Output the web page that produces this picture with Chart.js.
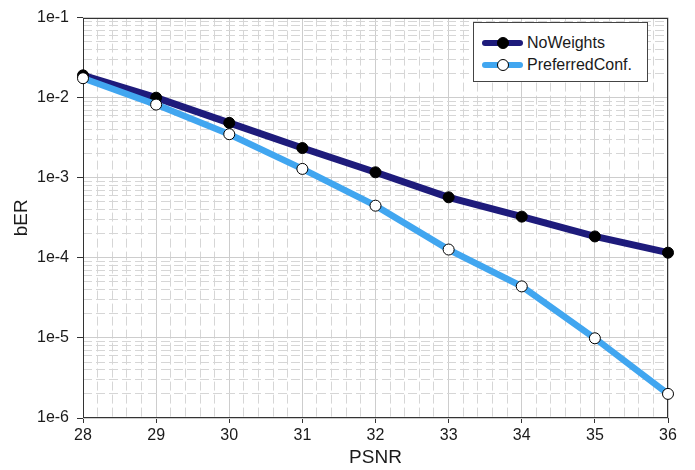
<!DOCTYPE html>
<html>
<head>
<meta charset="utf-8">
<script src="https://cdn.jsdelivr.net/npm/chart.js@4/dist/chart.umd.min.js"></script>
<style>
  html, body { margin: 0; padding: 0; background: #fff; }
  #wrap { position: relative; width: 695px; height: 470px; }
  #legend {
    position: absolute; left: 473px; top: 22px; width: 175px; height: 60px;
    border: 1px solid #444; background: #fff; box-sizing: border-box;
    font-family: "Liberation Sans", Arial, sans-serif; font-size: 16px; color: #1a1a1a;
  }
  .row { position: absolute; left: 8px; height: 20px; display: flex; align-items: center; }
  .icon { position: relative; width: 41px; height: 20px; margin-right: 4px; }
  .icon .ln { position: absolute; left: 0; right: 0; top: 7px; height: 6px; border-radius: 3px; }
  .icon .mk { position: absolute; left: 15px; top: 4px; width: 10px; height: 10px; border-radius: 50%; border: 1px solid #000; }
</style>
</head>
<body>
<div id="wrap">
  <canvas id="c" width="695" height="470"></canvas>
  <div id="legend">
    <div class="row" style="top:10px"><div class="icon"><div class="ln" style="background:#1e1b7b"></div><div class="mk" style="background:#000"></div></div><span id="l0"></span></div>
    <div class="row" style="top:32px"><div class="icon"><div class="ln" style="background:#41a6f0"></div><div class="mk" style="background:#fff"></div></div><span id="l1"></span></div>
  </div>
</div>
<script>
const seriesNames = ['NoWeights', 'PreferredConf.'];
const psnr = [28, 29, 30, 31, 32, 33, 34, 35, 36];
const noWeights = [1.9e-2, 1.0e-2, 4.85e-3, 2.35e-3, 1.17e-3, 5.7e-4, 3.27e-4, 1.85e-4, 1.16e-4];
const preferredConf = [1.75e-2, 8.2e-3, 3.5e-3, 1.29e-3, 4.48e-4, 1.27e-4, 4.4e-5, 9.9e-6, 2.0e-6];
const yMajorTicks = [1e-6, 1e-5, 1e-4, 1e-3, 1e-2, 1e-1];
const yTickLabels = ['1e-6', '1e-5', '1e-4', '1e-3', '1e-2', '1e-1'];
const xTickLabels = ['28', '29', '30', '31', '32', '33', '34', '35', '36'];
const minorMantissas = [2, 3, 4, 5, 6, 7, 8, 9];

document.getElementById('l0').textContent = seriesNames[0];
document.getElementById('l1').textContent = seriesNames[1];

const yMinorTicks = [];
for (let i = 0; i < yMajorTicks.length - 1; i++) {
  for (const m of minorMantissas) yMinorTicks.push(yMajorTicks[i] * m);
}

const FONT = "'Liberation Sans', Arial, sans-serif";
const majorGrid = '#cdcdcd';
const minorGrid = '#d6d6d6';
const axisColor = '#333333';

const framePlugin = {
  id: 'frame',
  beforeDatasetsDraw(chart) {
    const a = chart.chartArea, ctx = chart.ctx;
    ctx.save();
    ctx.strokeStyle = axisColor;
    ctx.lineWidth = 1;
    ctx.strokeRect(Math.round(a.left) + 0.5, Math.round(a.top) + 0.5,
      Math.round(a.right - a.left) - 1, Math.round(a.bottom - a.top) - 1);
    ctx.restore();
  }
};

new Chart(document.getElementById('c'), {
  type: 'line',
  data: {
    datasets: [
      {
        label: seriesNames[0],
        data: psnr.map((x, i) => ({ x, y: noWeights[i] })),
        borderColor: '#1e1b7b', borderWidth: 7,
        pointRadius: 5.5, pointBackgroundColor: '#000', pointBorderColor: '#000', pointBorderWidth: 1,
        tension: 0, clip: false, order: 1
      },
      {
        label: seriesNames[1],
        data: psnr.map((x, i) => ({ x, y: preferredConf[i] })),
        borderColor: '#41a6f0', borderWidth: 6.5,
        pointRadius: 5.5, pointBackgroundColor: '#fff', pointBorderColor: '#000', pointBorderWidth: 1,
        tension: 0, clip: false, order: 0
      }
    ]
  },
  options: {
    responsive: false, animation: false, devicePixelRatio: 1,
    layout: { padding: { top: 10, right: 27, left: 0, bottom: 0 } },
    plugins: { legend: { display: false }, tooltip: { enabled: false } },
    scales: {
      x: {
        type: 'linear', position: 'bottom', min: 28, max: 36,
        afterBuildTicks: s => { s.ticks = psnr.map(v => ({ value: v })); },
        afterFit: s => { s.height = 52; },
        ticks: {
          color: '#1a1a1a', font: { family: FONT, size: 16 }, padding: 3, maxRotation: 0, autoSkip: false,
          callback: (v, i) => xTickLabels[i]
        },
        grid: { color: majorGrid, lineWidth: 1, tickLength: 5, tickColor: axisColor, tickWidth: 1 },
        border: { display: false },
        title: { display: true, text: 'PSNR', color: '#1a1a1a', font: { family: FONT, size: 19 }, padding: { top: 0, bottom: 1 } }
      },
      x2: {
        type: 'linear', position: 'bottom', min: 28, max: 36,
        afterBuildTicks: s => {
          const t = [];
          for (let i = 0; i < psnr.length - 1; i++) for (let k = 1; k < 5; k++) t.push({ value: psnr[i] + k * 0.2 });
          s.ticks = t;
        },
        afterFit: s => { s.height = 0; },
        ticks: { display: false },
        grid: { color: minorGrid, lineWidth: 1, drawTicks: false },
        border: { display: false, dash: [9, 4] }
      },
      y: {
        type: 'logarithmic', position: 'left', min: 1e-6, max: 1e-1,
        afterBuildTicks: s => { s.ticks = yMajorTicks.map(v => ({ value: v })); },
        afterFit: s => { s.width = 83; },
        ticks: {
          color: '#1a1a1a', font: { family: FONT, size: 16 }, padding: 8, autoSkip: false,
          callback: (v, i) => yTickLabels[i]
        },
        grid: { color: majorGrid, lineWidth: 1, tickLength: 6, tickColor: axisColor, tickWidth: 1 },
        border: { display: false },
        title: { display: true, text: 'bER', color: '#1a1a1a', font: { family: FONT, size: 19 }, padding: { top: 10, bottom: 0 } }
      },
      y2: {
        type: 'logarithmic', position: 'left', min: 1e-6, max: 1e-1,
        afterBuildTicks: s => { s.ticks = yMinorTicks.map(v => ({ value: v })); },
        afterFit: s => { s.width = 0; },
        ticks: { display: false },
        grid: { color: minorGrid, lineWidth: 1, drawTicks: false },
        border: { display: false, dash: [9, 4] }
      }
    }
  },
  plugins: [framePlugin]
});
</script>
</body>
</html>
